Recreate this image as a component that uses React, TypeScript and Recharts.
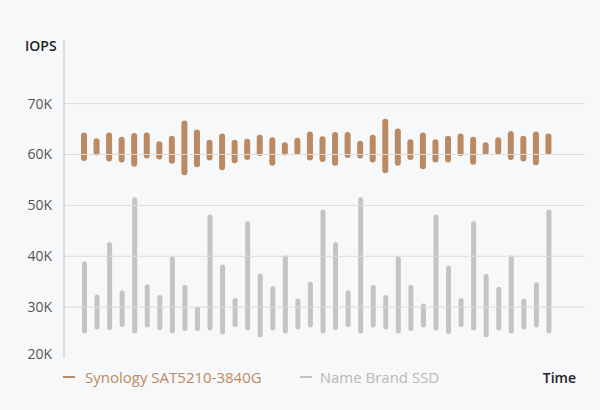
// App.tsx
import React from "react";
import { BarChart, Bar, XAxis, YAxis, ReferenceLine } from "recharts";

// IOPS in thousands, one entry per time slot
const synHigh = [
  64.3, 63.2, 64.3, 63.5, 64.2, 64.3, 62.6, 63.7, 66.7, 64.9, 62.9, 64.1, 62.9,
  63.1, 63.9, 63.4, 62.4, 63.3, 64.5, 63.6, 64.4, 64.4, 62.7, 63.9, 67.0, 65.1,
  63.0, 64.3, 63.0, 63.7, 64.1, 63.5, 62.4, 63.4, 64.6, 63.7, 64.5, 64.1,
];
const synLow = [
  58.7, 59.8, 58.6, 58.4, 57.6, 59.2, 59.0, 58.2, 55.9, 57.5, 58.8, 56.9, 58.3,
  58.9, 59.7, 57.8, 59.8, 59.9, 58.8, 58.5, 57.8, 59.3, 59.2, 58.4, 56.3, 57.8,
  58.9, 57.1, 58.4, 58.4, 59.7, 58.0, 59.9, 60.0, 58.9, 58.6, 57.9, 59.9,
];
const ssdHigh = [
  39.0, 32.5, 42.8, 33.3, 51.6, 34.5, 32.4, 40.0, 34.4, 30.1, 48.2, 38.4, 31.8,
  46.9, 36.6, 34.1, 40.2, 31.7, 35.0, 49.2, 42.8, 33.3, 51.6, 34.4, 32.4, 40.0,
  34.4, 30.7, 48.2, 38.2, 31.8, 46.9, 36.5, 34.0, 40.2, 31.7, 34.9, 49.2,
];
const ssdLow = [
  24.8, 25.6, 25.5, 26.1, 24.8, 26.0, 25.5, 24.8, 25.3, 25.3, 25.4, 24.6, 26.1,
  25.4, 24.1, 25.4, 24.8, 25.6, 26.0, 24.8, 25.5, 26.1, 24.8, 26.0, 25.6, 24.8,
  25.3, 26.0, 25.4, 24.7, 26.1, 25.4, 24.1, 25.4, 24.8, 25.6, 26.0, 24.8,
];
const slots = synHigh.map((_, i) => `T${i + 1}`);
const yTicks = [20000, 30000, 40000, 50000, 60000, 70000];

const SYN_NAME = "Synology SAT5210-3840G";
const SSD_NAME = "Name Brand SSD";
const SYN_COLOR = "#bb8a63";
const SSD_COLOR = "#c4c4c4";
const FONT = "'Open Sans', 'Noto Sans', sans-serif";

const data = slots.map((t, i) => ({
  t,
  syn: [synLow[i] * 1000, synHigh[i] * 1000],
  ssd: [ssdLow[i] * 1000, ssdHigh[i] * 1000],
}));

const YTick = (props: any) => {
  const { x, y, payload } = props;
  const dy = payload.value === 20000 ? -4 : 0;
  return (
    <text
      x={x - 4}
      y={y + dy}
      dy={5}
      textAnchor='end'
      fontSize={14}
      fontFamily={FONT}
      fill='#555'
    >
      {`${payload.value / 1000}K`}
    </text>
  );
};

const LegendRow = () => (
  <div
    style={{
      position: "absolute",
      left: 63,
      top: 367,
      width: 513,
      display: "flex",
      alignItems: "center",
      fontFamily: FONT,
      fontSize: 15,
    }}
  >
    <span style={{ display: "flex", alignItems: "center", color: SYN_COLOR }}>
      <span
        style={{
          width: 12,
          height: 2,
          background: SYN_COLOR,
          marginRight: 10,
          display: "inline-block",
        }}
      />
      {SYN_NAME}
    </span>
    <span
      style={{
        display: "flex",
        alignItems: "center",
        color: "#b8b8b8",
        marginLeft: 38,
      }}
    >
      <span
        style={{
          width: 12,
          height: 2,
          background: SSD_COLOR,
          marginRight: 8,
          display: "inline-block",
        }}
      />
      {SSD_NAME}
    </span>
    <span
      style={{
        marginLeft: "auto",
        color: "#222",
        fontSize: 14,
        fontWeight: 600,
      }}
    >
      Time
    </span>
  </div>
);

export default function App() {
  return (
    <div
      style={{
        position: "absolute",
        left: 0,
        top: 0,
        width: 600,
        height: 410,
        background: "#f7f8fa",
      }}
    >
      <div
        style={{
          position: "absolute",
          left: 25,
          top: 36,
          fontFamily: FONT,
          fontSize: 14,
          fontWeight: 600,
          color: "#222",
        }}
      >
        IOPS
      </div>
      <BarChart
        width={600}
        height={410}
        data={data}
        margin={{ top: 40, right: 15, left: 0, bottom: 52 }}
      >
        <XAxis
          dataKey='t'
          tick={false}
          tickLine={false}
          axisLine={{ stroke: "#bdbdbd" }}
          padding={{ left: 14, right: 30 }}
          height={0}
        />
        <XAxis
          xAxisId='b'
          dataKey='t'
          hide
          padding={{ left: 14, right: 30 }}
        />
        <YAxis
          width={64}
          domain={[20000, 82500]}
          ticks={yTicks}
          tick={<YTick />}
          tickLine={false}
          axisLine={{ stroke: "#bdbdbd" }}
          allowDataOverflow
        />
        {yTicks.slice(1).map((v) => (
          <ReferenceLine key={v} y={v} stroke='#dcdcdc' />
        ))}
        <Bar
          dataKey='syn'
          name={SYN_NAME}
          fill={SYN_COLOR}
          barSize={6}
          radius={3}
          isAnimationActive={false}
        />
        <Bar
          xAxisId='b'
          dataKey='ssd'
          name={SSD_NAME}
          fill={SSD_COLOR}
          barSize={5}
          radius={2.5}
          isAnimationActive={false}
        />
      </BarChart>
      <LegendRow />
    </div>
  );
}
